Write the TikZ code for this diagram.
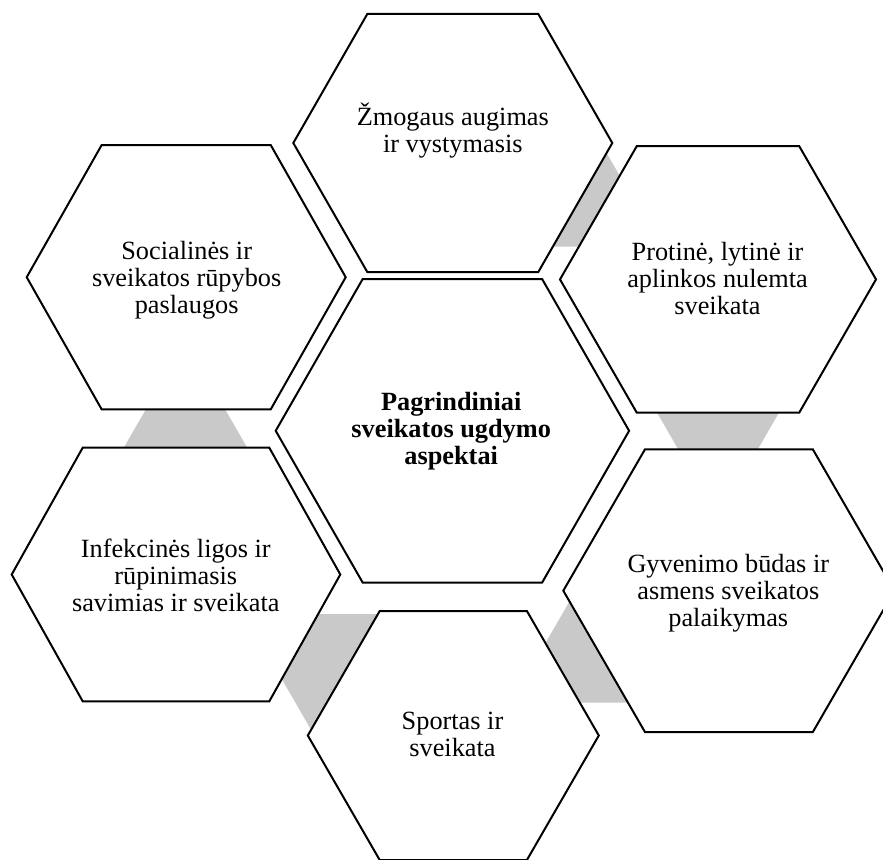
\documentclass[tikz,border=0pt]{standalone}
\usepackage{fontspec}
\setmainfont{Liberation Serif}
\usetikzlibrary{positioning}
\tikzset{
  hexline/.style={draw=black, line width=2pt, fill=white},
  link/.style={fill=black!21, draw=none},
  hexlbl/.style={align=center, anchor=base, inner sep=0pt,
    font=\fontsize{26.3}{27}\selectfont}
}
\begin{document}
\begin{tikzpicture}[x=1pt,y=-1pt]
  \def\hexa#1#2#3#4#5#6{%
    \path[#6] (#1-#3,#2) -- (#1-#4,#2-#5) -- (#1+#4,#2-#5)
      -- (#1+#3,#2) -- (#1+#4,#2+#5) -- (#1-#4,#2+#5) -- cycle;
  }
  \useasboundingbox (0,0) rectangle (883,859);

  \foreach \gx/\gy in {555.7/186.1, 718/397, 616/642.1, 349.2/674.6, 185.5/462}{
    \hexa{\gx}{\gy}{70}{35}{60.6}{link}
  }

  \hexa{452.8}{143}{159.5}{85.5}{129}{hexline}
  \hexa{718}{279.4}{158}{81.2}{133.3}{hexline}
  \hexa{728.9}{590.7}{165.6}{83.9}{141.4}{hexline}
  \hexa{453.3}{735.5}{145.5}{73.6}{124.5}{hexline}
  \hexa{176}{574.5}{164.3}{93.3}{126.8}{hexline}
  \hexa{186.2}{277.2}{159.5}{84.5}{132.2}{hexline}
  \hexa{452.4}{430.8}{176.7}{89.7}{151.8}{hexline}

  \node[hexlbl] (zmog) at (452.8,152) {Žmogaus augimas\\ir vystymasis};
  \node[hexlbl] (protin) at (717.5,314) {Protinė, lytinė ir\\aplinkos nulemta\\sveikata};
  \node[hexlbl] (gyven) at (728.3,626.7) {Gyvenimo būdas ir\\asmens sveikatos\\palaikymas};
  \node[hexlbl] (sport) at (452.5,756.7) {Sportas ir\\sveikata};
  \node[hexlbl] (infek) at (175.8,611.7) {Infekcinės ligos ir\\rūpinimasis\\savimias ir sveikata};
  \node[hexlbl] (social) at (186.7,313.3) {Socialinės ir\\sveikatos rūpybos\\paslaugos};
  \node[hexlbl,font=\fontsize{26.3}{27}\selectfont\bfseries] (pagr) at (451.2,464)
    {Pagrindiniai\\sveikatos ugdymo\\aspektai};
\end{tikzpicture}
\end{document}
